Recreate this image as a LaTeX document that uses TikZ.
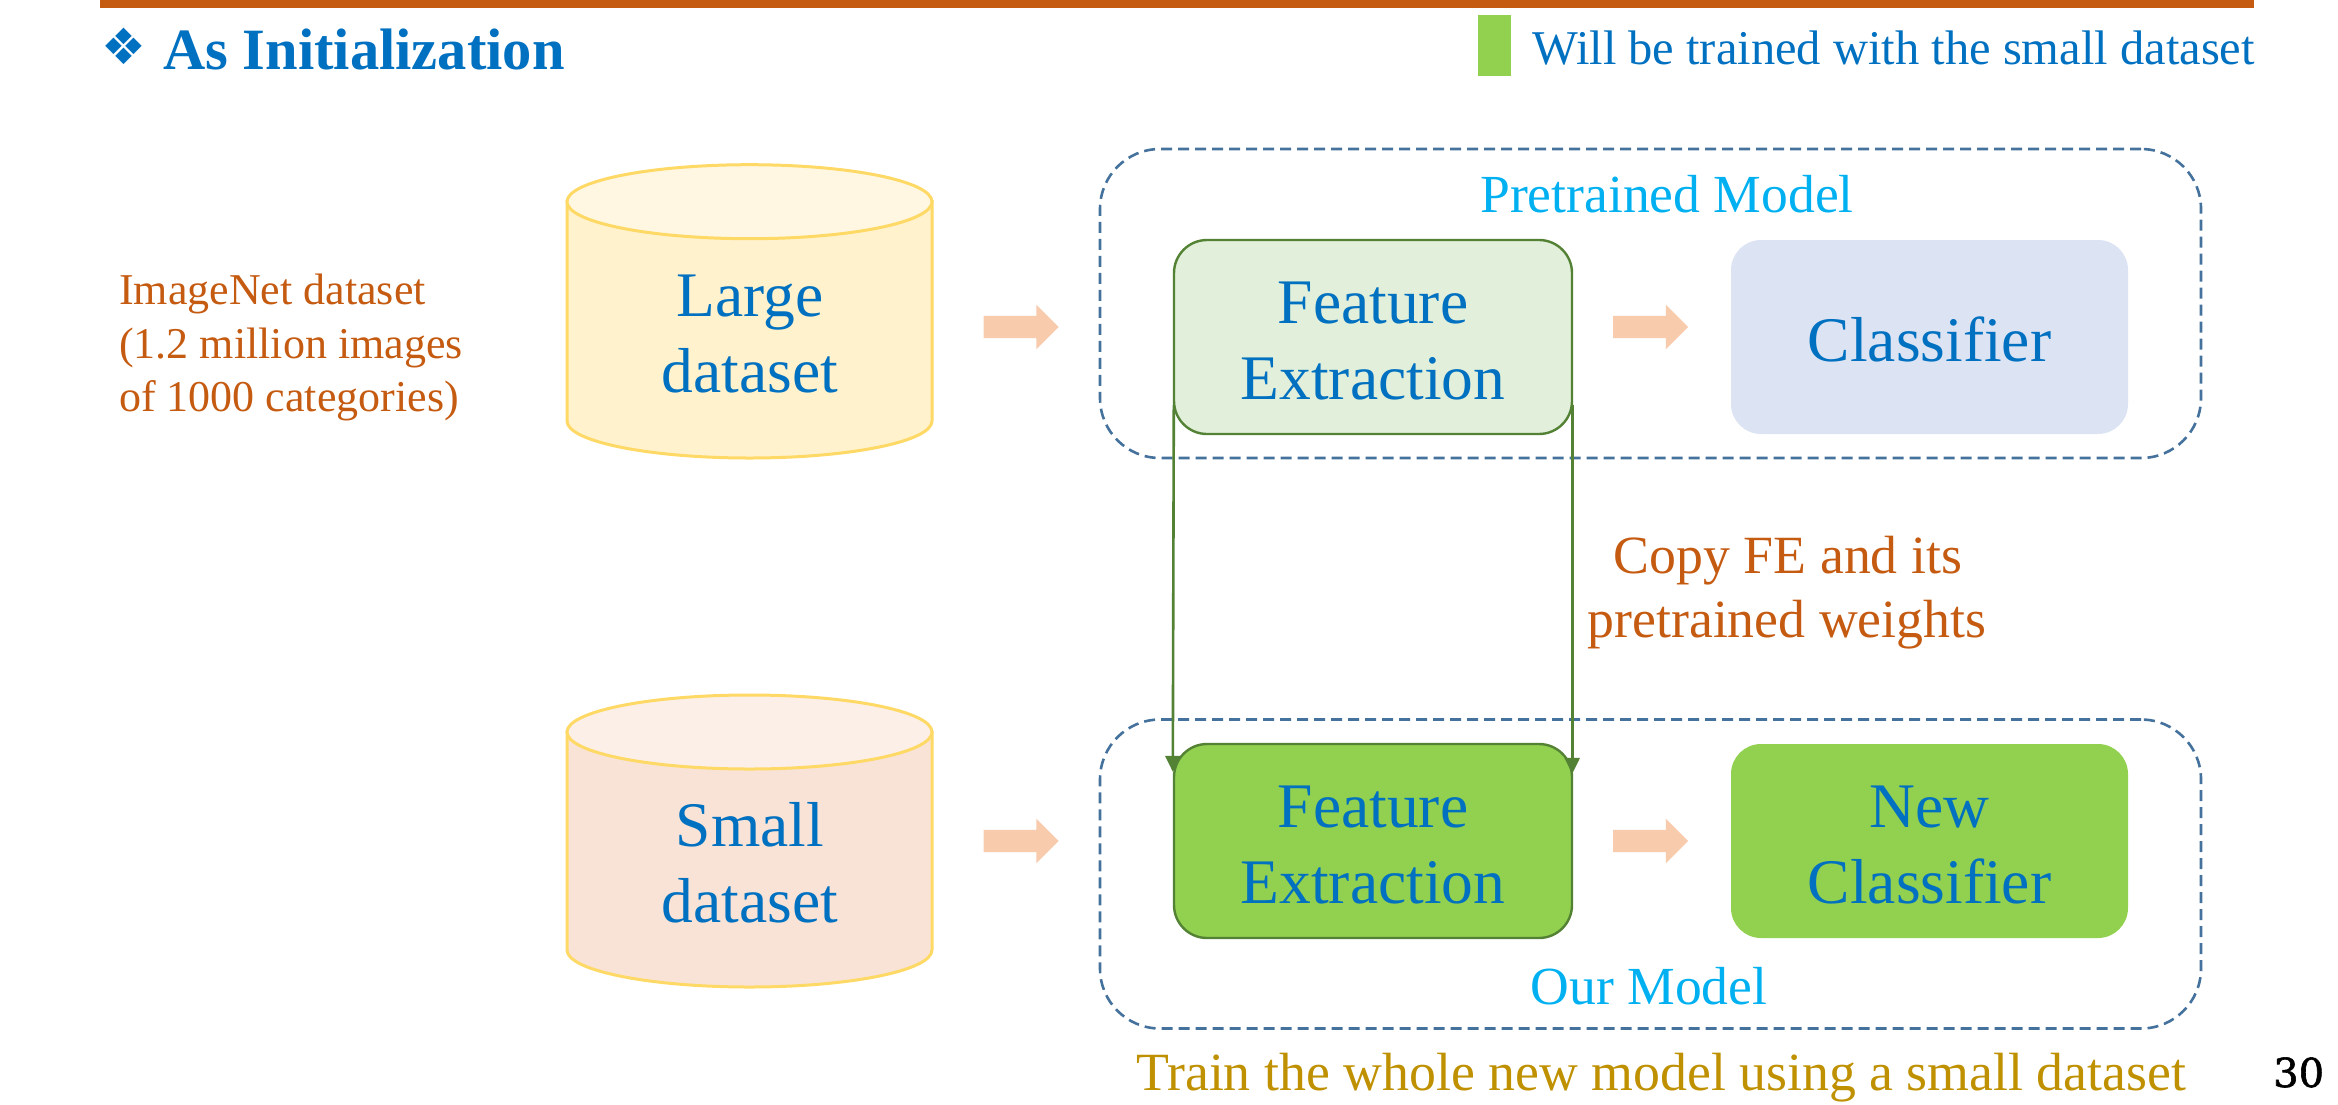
\documentclass[tikz,border=0pt]{standalone}
\usepackage{fontspec}
\setmainfont{Liberation Serif}
\newfontfamily\dejasans{DejaVu Sans}
\newfontfamily\dejaserif[FakeBold=1.5]{DejaVu Serif}
\usetikzlibrary{shapes.arrows,arrows.meta,calc}
\definecolor{barc}{HTML}{C55A11}
\definecolor{blu}{HTML}{0070C0}
\definecolor{cyanc}{HTML}{00B0F0}
\definecolor{gold}{HTML}{BF9000}
\definecolor{grn}{HTML}{92D050}
\definecolor{grnl}{HTML}{E2EFDA}
\definecolor{grnd}{HTML}{548235}
\definecolor{clsf}{HTML}{DCE3F3}
\definecolor{dashc}{HTML}{44729D}
\definecolor{peach}{HTML}{F8CBAD}
\definecolor{cylb}{HTML}{FFD966}
\definecolor{cylabody}{HTML}{FFF2CC}
\definecolor{cylatop}{HTML}{FFF7E1}
\definecolor{cylbbody}{HTML}{F9E3D6}
\definecolor{cylbtop}{HTML}{FCEFE8}
\newcommand{\fs}[1]{\fontsize{#1}{#1}\selectfont}
\newcommand{\lift}{\rule{0pt}{50pt}}
% top-centre y, bottom-centre y, body colour, top colour
\newcommand{\drumshape}[4]{%
  \path[draw=cylb,line width=3pt,fill=#3] (567,#1) -- (567,#2) arc[start angle=180,end angle=0,x radius=182.5,y radius=37] -- (932,#1) -- cycle;
  \path[draw=cylb,line width=3pt,fill=#4] (749.5,#1) ellipse[x radius=182.5,y radius=37];
}
\tikzset{
  boxtext/.style={align=center,text=blu,font=\fontsize{63.5}{76}\selectfont},
  fe/.style={boxtext,rounded corners=33pt,minimum width=398pt,minimum height=194pt,inner sep=0pt},
  clsbox/.style={boxtext,rounded corners=30pt,minimum width=397pt,minimum height=194pt,inner sep=0pt},
  groupbox/.style={draw=dashc,line width=2.6pt,dash pattern=on 11pt off 6pt,rounded corners=60pt,minimum width=1101pt,minimum height=309pt,inner sep=0pt},
  blockarrow/.style={single arrow,fill=peach,minimum width=44pt,minimum height=75pt,single arrow head extend=11pt,inner xsep=0pt,inner ysep=11pt,single arrow tip angle=90},
  copyline/.style={draw=grnd,line width=2.6pt,-{Triangle[length=16pt,width=15pt,fill=grnd]}},
  datatext/.style={boxtext,inner sep=0pt},
  grp/.style={text=cyanc,font=\fs{53.6},inner sep=0pt,anchor=base},
  note/.style={text=barc,inner sep=0pt,anchor=base west,font=\fs{44}},
  copytext/.style={text=barc,inner sep=0pt,anchor=base,font=\fs{53.8}}
}
\begin{document}
\begin{tikzpicture}[x=1pt,y=-1pt]
\useasboundingbox (0,0) rectangle (2338,1104);
\fill[barc] (100,0) rectangle (2254,7.5);
% heading
\node[anchor=base west,text=blu,inner sep=0pt,font=\dejasans\fs{50}] (bullet) at (101,64) {❖};
\node[anchor=base west,text=blu,inner sep=0pt,font=\bfseries\fs{58.5}] (title) at (163,69) {As Initialization};
\node[fill=grn,minimum width=33pt,minimum height=61pt,inner sep=0pt] (legendbox) at (1494.5,45.5) {};
\node[anchor=base west,text=blu,inner sep=0pt,font=\fs{48.5}] (legend) at (1532,64) {Will be trained with the small dataset};
% note
\node[note] (imgnetA) at (119,304) {ImageNet dataset};
\node[note] (imgnetB) at (119,358) {(1.2 million images};
\node[note] (imgnetC) at (119,411) {of 1000 categories)};
% cylinders
\drumshape{201.7}{421}{cylabody}{cylatop}
\drumshape{732}{950}{cylbbody}{cylbtop}
\node[datatext] (large) at (750,334) {Large\\dataset};
\node[datatext] (small) at (750,862.5) {Small\\dataset};
% group frames
\node[groupbox] (pre) at (1650.5,303.5) {};
\node[groupbox] (our) at (1650.5,874) {};
\node[grp] (pretxt) at (1667,212) {Pretrained Model};
\node[grp] (ourtxt) at (1649,1004) {Our Model};
% boxes
\node[fe,fill=grnl,draw=grnd,line width=2.4pt] (feA) at (1373,337) {\lift Feature\\Extraction};
\node[fe,fill=grn,draw=grnd,line width=2.4pt] (feB) at (1373,841) {\lift Feature\\Extraction};
\node[clsbox,fill=clsf] (clsA) at (1929.5,337) {\lift Classifier};
\node[clsbox,fill=grn] (clsB) at (1929.5,841) {\lift New\\Classifier};
% block arrows
\node[blockarrow] (arA) at (1015.5,327) {};
\node[blockarrow] (arB) at (1015.5,841) {};
\node[blockarrow] (arC) at (1645,327) {};
\node[blockarrow] (arD) at (1645,841) {};
% copy connectors
\draw[copyline] ($(feA.south west)+(1,-30)$) -- ($(feB.north west)+(0,29)$);
\draw[copyline] ($(feA.south east)+(-1,-30)$) -- ($(feB.north east)+(-1,31)$);
% captions
\node[copytext] (copyA) at (1788,573) {Copy FE and its};
\node[copytext] (copyB) at (1787,637) {pretrained weights};
\node[anchor=base west,text=gold,inner sep=0pt,font=\fs{53.8}] (train) at (1136,1090.5) {Train the whole new model using a small dataset};
\node[anchor=base west,inner sep=0pt,font=\dejaserif\fs{40}] (page) at (2273,1087) {30};
\end{tikzpicture}
\end{document}
